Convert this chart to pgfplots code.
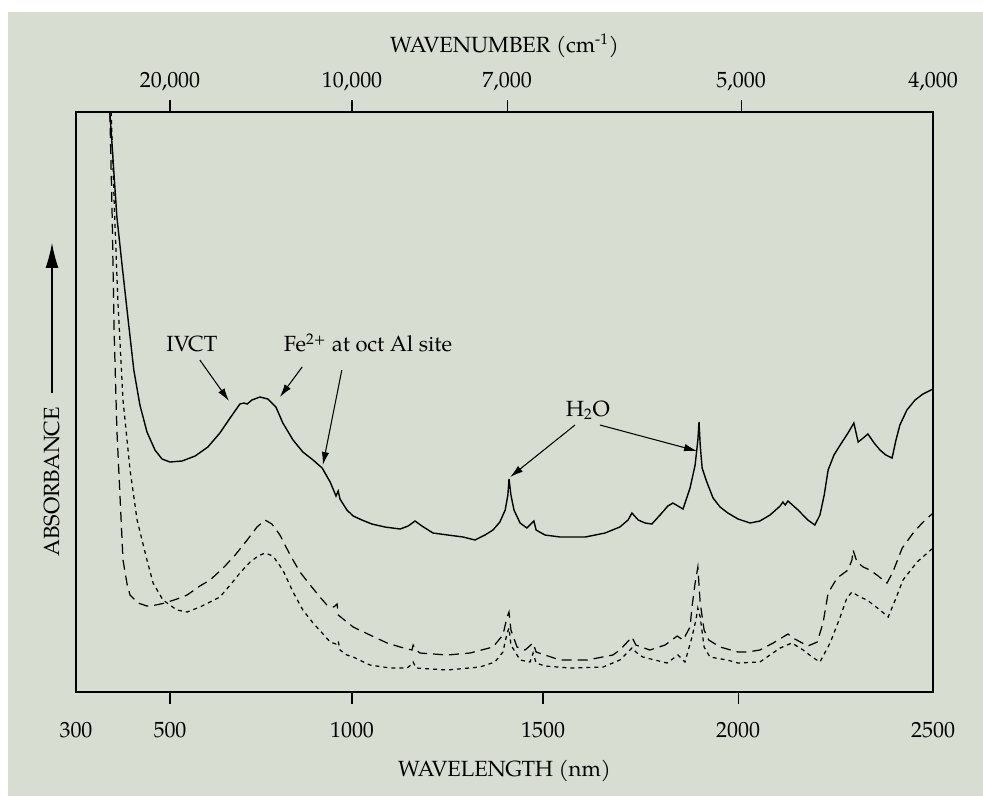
\documentclass[border=0pt]{standalone}
\usepackage{pgfplots}
\pgfplotsset{compat=1.18}
\usepackage{fontspec}
\setmainfont{TeX Gyre Pagella}
\usetikzlibrary{arrows.meta}
\definecolor{paper}{RGB}{215,221,208}

% piecewise wavelength scale, as drawn in the original figure
\pgfplotsset{
  nmscale/.style={
    x coord trafo/.code={%
      \begingroup
      \pgfkeys{/pgf/fpu=true,/pgf/fpu/output format=fixed}%
      \pgfmathparse{(##1<500) ? (76+(##1-300)*0.47) :
        ((##1<1000) ? (170+(##1-500)*0.364) :
        ((##1<1500) ? (352+(##1-1000)*0.382) :
        ((##1<2000) ? (543+(##1-1500)*0.39) : (738+(##1-2000)*0.39))))}%
      \global\let\nmtrafores\pgfmathresult
      \endgroup
      \let\pgfmathresult\nmtrafores},
    xmin=300, xmax=2500, ymin=0, ymax=580,
    scale only axis, width=17.14cm, height=11.6cm,
    at={(0,0)}, anchor=south west,
    tick align=outside, major tick length=0.24cm,
    every tick/.style={black, line width=0.6pt},
    ytick=\empty,
    ticklabel style={font=\fontsize{12.5}{14}\selectfont},
    label style={font=\fontsize{12.5}{14}\selectfont},
  },
}
\tikzset{annot/.style={-{Latex[length=2.6mm,width=1.5mm]}, line width=0.6pt}}

\begin{document}
\begin{tikzpicture}
% page and paper
\begin{scope}[x=0.2mm, y=-0.2mm, xshift=-15.2mm, yshift=138.4mm]
  \fill[white] (0,0) rectangle (983,796);
  \fill[paper] (8,12) rectangle (983,796);
\end{scope}

% top axis: wavenumber (ticks placed where the original draws them)
\begin{axis}[
  nmscale,
  axis x line*=top, axis y line=none,
  xtick={500,1000,1406,2008},
  xticklabels={20{,}000,10{,}000,7{,}000,5{,}000},
  extra x ticks={2500}, extra x tick labels={4{,}000},
  extra x tick style={tick style={draw=none}},
  xticklabel style={anchor=center, yshift=0.36cm},
  xlabel={WAVENUMBER (cm\textsuperscript{-1})},
  xlabel style={at={(axis description cs:0.5,1)}, anchor=center, yshift=1.32cm},
  axis line style={line width=0.7pt},
]
\addplot[draw=none] coordinates {(300,0)};
\end{axis}

% main axis: wavelength
\begin{axis}[
  nmscale,
  xtick pos=bottom,
  xtick={500,1000,1500,2000},
  xticklabels={500,1000,1500,2000},
  extra x ticks={300,2500}, extra x tick labels={300,2500},
  extra x tick style={tick style={draw=none}},
  xticklabel style={anchor=center, yshift=-0.52cm},
  xlabel={WAVELENGTH (nm)},
  xlabel style={at={(axis description cs:0.5,0)}, anchor=center, yshift=-1.58cm},
  axis line style={line width=0.7pt},
  clip=false,
]
% upper spectrum (solid)
\addplot[black, line width=0.8pt] coordinates {
(372,580) (387,475) (398,427) (411,372) (423,322) (436,287) (451,260) (468,242)
(483,233) (500,230) (533,231) (569,236) (604,245) (637,259) (665,274) (692,288)
(703,289) (712,288) (725,292) (747,295) (769,293) (791,285) (810,269) (838,252)
(865,240) (893,232) (918,224) (940,210) (956,196) (962,201) (967,193) (986,182)
(1003,176) (1026,172) (1052,168) (1086,165) (1126,163) (1147,166) (1165,171)
(1183,166) (1212,159) (1251,157) (1291,155) (1322,152) (1348,157) (1369,162)
(1387,170) (1401,182) (1408,197) (1411,213) (1416,197) (1424,182) (1440,169)
(1458,164) (1476,171) (1482,162) (1505,157) (1544,155) (1608,155) (1659,159)
(1697,165) (1718,172) (1728,179) (1744,172) (1762,169) (1779,168) (1800,177)
(1820,186) (1833,189) (1846,186) (1859,183) (1877,204) (1890,227) (1897,252)
(1900,270) (1903,247) (1908,224) (1920,210) (1936,194) (1954,185) (1974,179)
(2000,173) (2031,169) (2056,171) (2082,177) (2108,186) (2115,190) (2121,187)
(2128,191) (2154,182) (2179,172) (2197,167) (2210,177) (2221,197) (2231,222)
(2246,237) (2262,247) (2282,259) (2297,269) (2308,250) (2321,254) (2333,258)
(2349,249) (2364,242) (2379,237) (2395,234) (2405,252) (2415,267) (2433,282)
(2454,292) (2474,298) (2500,303)
};
% middle spectrum (dashed)
\addplot[black, line width=0.7pt, dash pattern=on 2mm off 1.2mm] coordinates {
(372,580) (377,475) (381,362) (387,262) (394,192) (400,132) (409,107) (415,97)
(432,89) (451,86) (470,87) (489,89) (519,93) (547,97) (582,106) (610,112)
(646,124) (679,137) (712,152) (739,165) (761,172) (780,168) (802,157) (830,137)
(857,120) (885,107) (912,95) (931,87) (950,85) (959,88) (962,77) (986,70)
(1003,65) (1047,57) (1092,49) (1126,45) (1157,42) (1160,47) (1168,42) (1178,39)
(1249,37) (1309,39) (1369,45) (1395,57) (1406,75) (1411,80) (1416,62) (1432,45)
(1453,42) (1474,49) (1482,40) (1505,37) (1544,32) (1613,32) (1679,37) (1697,42)
(1728,55) (1738,47) (1774,42) (1813,47) (1844,56) (1859,52) (1877,65) (1882,85)
(1890,109) (1897,125) (1903,89) (1913,62) (1925,52) (1954,45) (2000,40) (2023,40)
(2056,42) (2090,49) (2128,58) (2141,54) (2179,46) (2203,50) (2218,69) (2231,99)
(2254,114) (2282,122) (2292,132) (2295,142) (2305,130) (2321,125) (2338,122)
(2356,117) (2382,109) (2397,120) (2421,144) (2449,159) (2472,169) (2500,179)
};
% lower spectrum (dotted)
\addplot[black, line width=0.7pt, dash pattern=on 0.8mm off 0.8mm] coordinates {
(375,580) (381,492) (389,392) (400,292) (415,222) (430,172) (451,132) (464,109)
(485,92) (519,82) (547,80) (582,85) (637,95) (670,109) (692,119) (720,130)
(742,136) (761,139) (783,136) (810,122) (838,100) (865,82) (893,69) (918,59)
(940,50) (956,48) (962,51) (967,42) (986,37) (1003,35) (1047,27) (1099,24)
(1144,24) (1154,27) (1160,30) (1168,24) (1249,22) (1335,25) (1374,30) (1395,40)
(1406,59) (1411,64) (1416,47) (1440,32) (1466,30) (1474,39) (1482,29) (1505,26)
(1569,24) (1654,25) (1697,32) (1728,44) (1744,38) (1756,35) (1818,29) (1846,37)
(1864,30) (1882,55) (1892,72) (1897,84) (1903,75) (1913,45) (1928,35) (1972,32)
(2000,29) (2056,30) (2108,44) (2138,49) (2167,42) (2190,35) (2210,30) (2236,49)
(2262,75) (2279,94) (2292,100) (2313,95) (2331,92) (2364,82) (2385,75) (2403,92)
(2423,112) (2459,130) (2500,144)
};
% annotations
\node[font=\fontsize{12.5}{14}\selectfont] at (axis cs:560,348) {IVCT};
\draw[annot] (axis cs:582,332) -- (axis cs:662,291);
\node[font=\fontsize{12.5}{14}\selectfont] at (axis cs:1042,349) {Fe\textsuperscript{2+} at oct Al site};
\draw[annot] (axis cs:863,325) -- (axis cs:802,295);
\draw[annot] (axis cs:972,322) -- (axis cs:920,227);
\node[font=\fontsize{12.5}{14}\selectfont] at (axis cs:1615,282) {H\textsubscript{2}O};
\draw[annot] (axis cs:1582,267) -- (axis cs:1414,215);
\draw[annot] (axis cs:1646,267) -- (axis cs:1895,241);
\end{axis}

% absorbance label with arrow
\begin{scope}[x=0.2mm, y=-0.2mm, xshift=-15.2mm, yshift=138.4mm]
  \node[rotate=90, font=\fontsize{12.5}{14}\selectfont] at (52,482) {ABSORBANCE};
  \draw[line width=0.7pt, -{Latex[length=5mm,width=2.6mm]}] (52,393) -- (52,243);
\end{scope}
\end{tikzpicture}
\end{document}
